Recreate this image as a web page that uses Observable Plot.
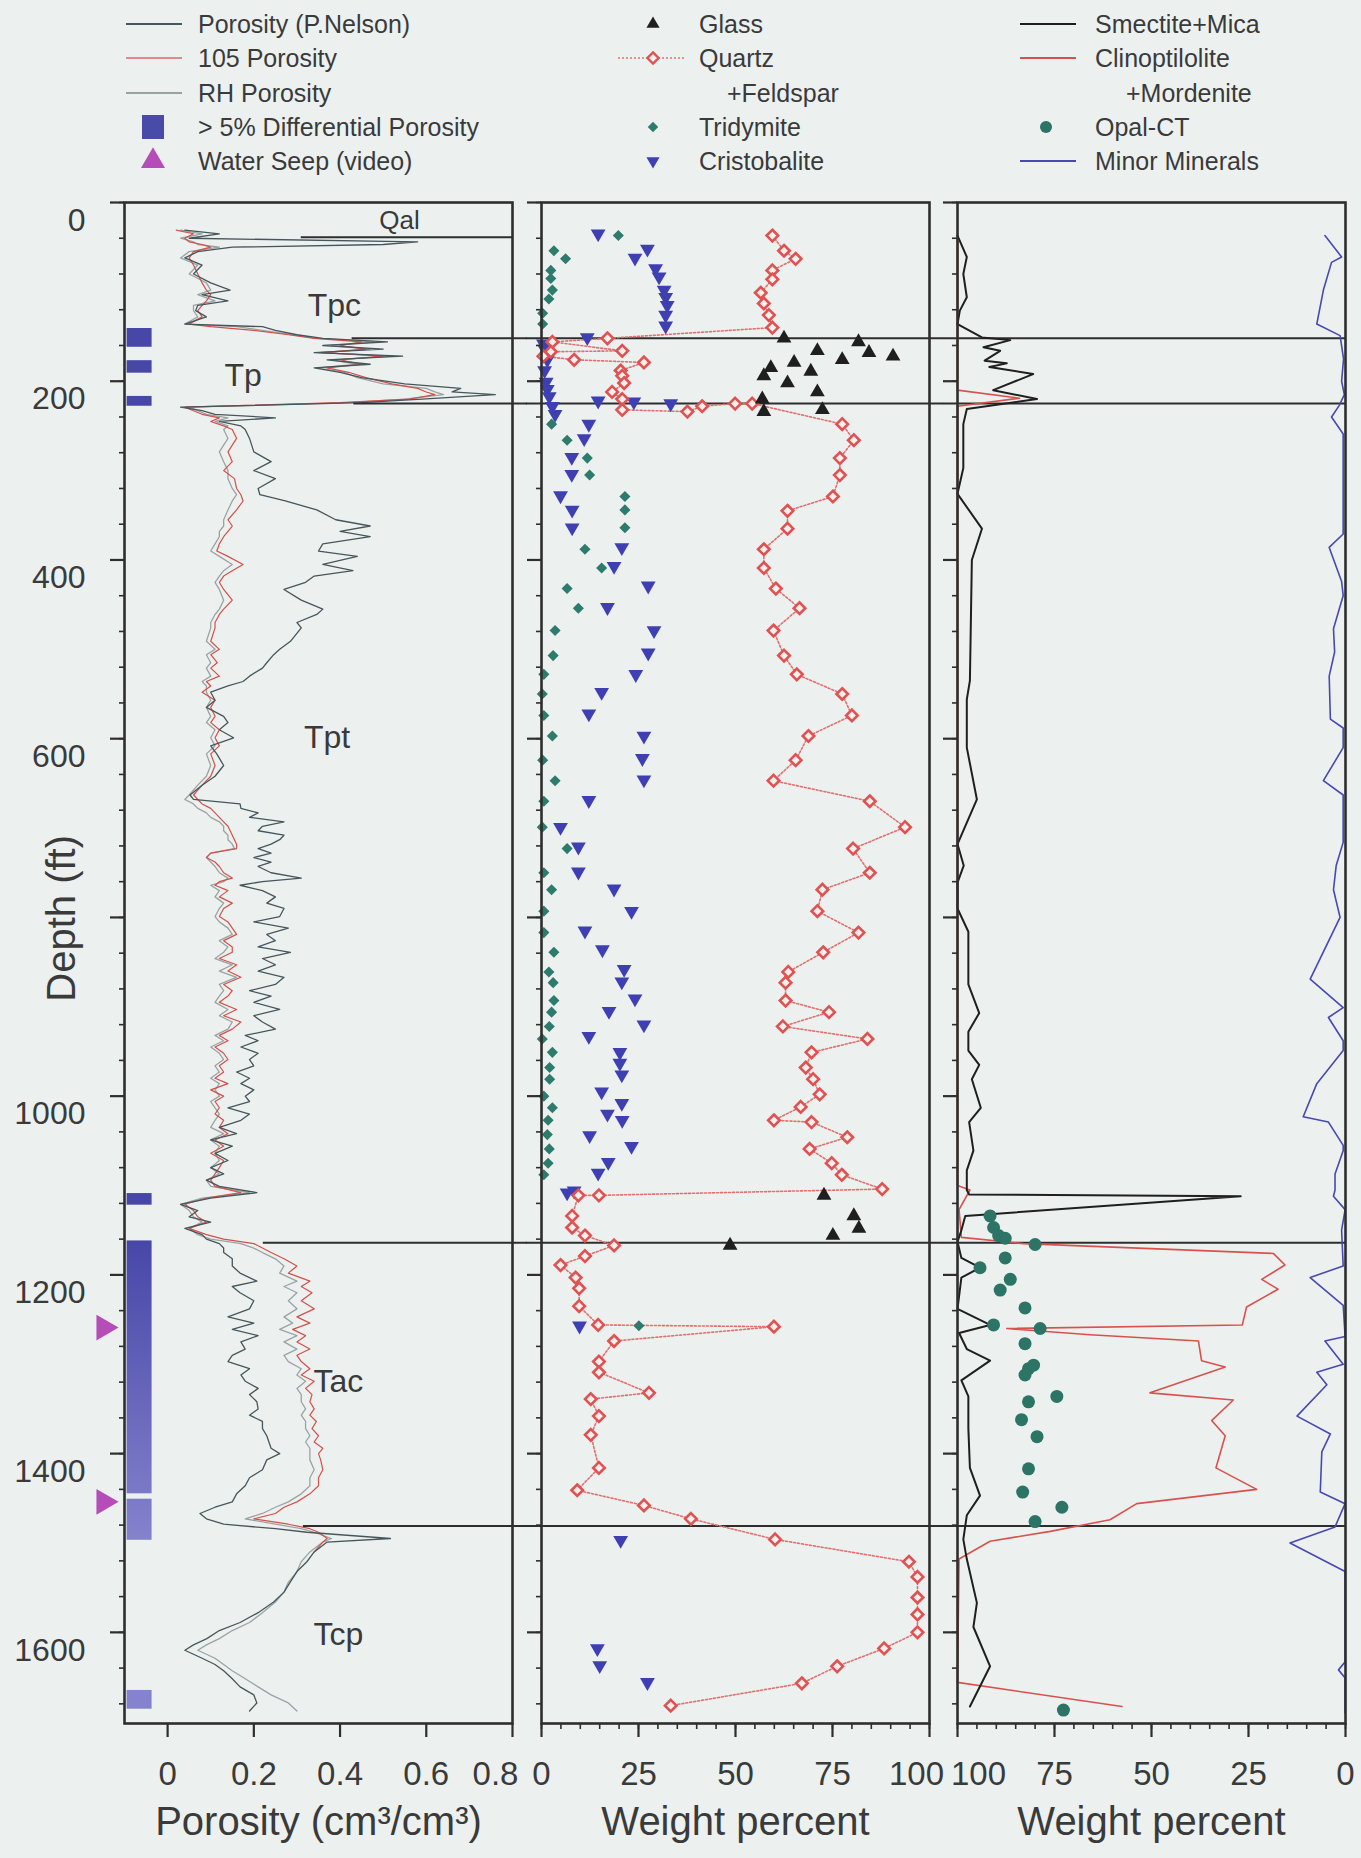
<!DOCTYPE html>
<html>
<head>
<meta charset="utf-8">
<script src="https://cdn.jsdelivr.net/npm/d3@7"></script>
<script src="https://cdn.jsdelivr.net/npm/@observablehq/plot@0.6"></script>
<style>
  html,body{margin:0;padding:0;background:#ecf1f0;}
  #wrap{position:relative;width:1361px;height:1858px;overflow:hidden;}
  #wrap > *{position:absolute;top:0;}
</style>
</head>
<body>
<div id="wrap"></div>
<script>
// ---------------- DATA ----------------
const depthTicks = [0, 200, 400, 600, 800, 1000, 1200, 1400, 1600];
const depthTickLabels = ["0", "200", "400", "600", "", "1000", "1200", "1400", "1600"];
const porTicks = [0, 0.2, 0.4, 0.6, 0.8];
const porTickLabels = ["0", "0.2", "0.4", "0.6", "0.8"];
const wtTicks = [0, 25, 50, 75, 100];
const wtTickLabels = ["0", "25", "50", "75", "100"];

// porosity logs: [depth ft, porosity cm3/cm3]
const porNelson = [[31,.04],[35,.12],[40,.05],[44,.58],[47,.50],[50,.15],[55,.07],[62,.04],[70,.08],[80,.06],[90,.10],[98,.145],[103,.08],[110,.14],[115,.07],[121,.065],[128,.09],[136,.04],[139,.22],[143,.25],[148,.30],[152,.36],[156,.51],[160,.36],[164,.50],[168,.34],[172,.545],[176,.37],[181,.47],[185,.34],[190,.40],[196,.45],[203,.55],[208,.68],[212,.66],[215,.76],[220,.59],[224,.45],[229,.03],[233,.08],[237,.11],[241,.25],[245,.12],[250,.17],[254,.18],[264,.19],[279,.20],[290,.24],[300,.20],[309,.25],[320,.21],[327,.214],[334,.273],[344,.346],[355,.39],[362,.47],[368,.40],[374,.47],[382,.36],[390,.35],[396,.44],[405,.36],[412,.43],[418,.34],[425,.32],[433,.27],[445,.31],[455,.36],[461,.346],[470,.30],[476,.31],[491,.285],[500,.26],[506,.246],[515,.23],[521,.22],[530,.19],[536,.175],[541,.14],[548,.10],[557,.11],[565,.09],[575,.13],[582,.14],[590,.12],[599,.153],[608,.10],[617,.114],[630,.13],[642,.11],[652,.08],[663,.052],[668,.06],[673,.168],[678,.17],[683,.21],[688,.19],[693,.27],[698,.22],[703,.21],[708,.27],[713,.26],[718,.24],[723,.21],[728,.24],[733,.20],[738,.24],[743,.21],[750,.24],[756,.31],[760,.22],[764,.168],[770,.22],[777,.25],[784,.23],[790,.27],[799,.26],[805,.20],[812,.28],[819,.23],[826,.25],[833,.21],[839,.285],[846,.22],[853,.25],[860,.21],[867,.27],[875,.25],[882,.19],[888,.24],[895,.20],[903,.26],[910,.20],[917,.22],[925,.25],[932,.18],[938,.21],[945,.17],[952,.21],[959,.19],[966,.20],[973,.16],[980,.19],[986,.17],[993,.20],[1000,.18],[1006,.19],[1013,.14],[1020,.19],[1027,.17],[1035,.12],[1042,.16],[1049,.10],[1056,.15],[1064,.11],[1072,.14],[1080,.10],[1087,.13],[1094,.09],[1101,.12],[1108,.207],[1114,.10],[1121,.03],[1128,.07],[1135,.05],[1141,.10],[1148,.04],[1155,.08],[1160,.09],[1165,.12],[1170,.13],[1175,.13],[1182,.15],[1190,.15],[1198,.168],[1207,.207],[1213,.15],[1220,.168],[1229,.20],[1238,.19],[1247,.14],[1254,.20],[1261,.15],[1268,.21],[1275,.17],[1283,.18],[1290,.15],[1297,.14],[1305,.19],[1312,.17],[1319,.18],[1327,.21],[1334,.19],[1342,.207],[1350,.21],[1357,.19],[1364,.22],[1372,.22],[1380,.23],[1387,.235],[1394,.24],[1400,.26],[1407,.23],[1418,.22],[1427,.19],[1436,.18],[1445,.16],[1454,.15],[1460,.11],[1467,.075],[1473,.09],[1479,.13],[1484,.25],[1488,.323],[1495,.517],[1499,.37],[1510,.34],[1521,.323],[1532,.30],[1544,.284],[1555,.27],[1566,.246],[1578,.21],[1589,.168],[1598,.12],[1607,.091],[1614,.06],[1620,.04],[1629,.08],[1636,.11],[1643,.13],[1652,.15],[1661,.168],[1670,.20],[1679,.207],[1688,.19]];

const por105 = [[31,.02],[35,.06],[40,.04],[44,.05],[47,.08],[50,.10],[55,.06],[62,.05],[70,.06],[80,.07],[90,.08],[98,.09],[103,.10],[110,.09],[115,.08],[121,.07],[128,.08],[136,.05],[139,.10],[143,.20],[148,.28],[152,.34],[156,.45],[160,.40],[164,.46],[168,.36],[172,.50],[176,.40],[181,.45],[185,.37],[190,.42],[196,.46],[203,.52],[208,.58],[212,.60],[215,.62],[220,.56],[224,.40],[229,.04],[233,.06],[237,.08],[241,.12],[245,.10],[250,.13],[254,.15],[264,.16],[279,.14],[290,.15],[300,.13],[309,.155],[320,.16],[327,.17],[334,.175],[344,.16],[355,.14],[362,.15],[368,.14],[374,.13],[382,.12],[390,.114],[396,.14],[405,.175],[412,.15],[418,.13],[425,.12],[433,.13],[445,.15],[455,.13],[461,.12],[470,.11],[476,.11],[491,.10],[500,.12],[506,.10],[515,.115],[521,.10],[530,.12],[536,.09],[541,.10],[548,.08],[557,.11],[565,.10],[575,.11],[582,.10],[590,.12],[599,.11],[608,.12],[617,.10],[630,.11],[642,.10],[652,.08],[663,.06],[668,.07],[673,.08],[678,.10],[683,.11],[688,.12],[693,.13],[698,.14],[703,.145],[708,.15],[713,.155],[718,.16],[723,.16],[728,.10],[733,.09],[738,.11],[743,.12],[750,.13],[756,.15],[760,.12],[764,.11],[770,.14],[777,.12],[784,.15],[790,.13],[799,.12],[805,.14],[812,.15],[819,.16],[826,.13],[833,.15],[839,.15],[846,.12],[853,.16],[860,.14],[867,.17],[875,.13],[882,.15],[888,.14],[895,.12],[903,.16],[910,.13],[917,.17],[925,.15],[932,.12],[938,.14],[945,.11],[952,.13],[959,.14],[966,.12],[973,.13],[980,.11],[986,.14],[993,.10],[1000,.13],[1006,.11],[1013,.12],[1020,.11],[1027,.13],[1035,.12],[1042,.14],[1049,.11],[1056,.13],[1064,.10],[1072,.13],[1080,.12],[1087,.11],[1094,.10],[1101,.11],[1108,.17],[1114,.09],[1121,.04],[1128,.06],[1135,.07],[1141,.09],[1148,.05],[1155,.09],[1160,.13],[1165,.20],[1170,.22],[1175,.24],[1182,.27],[1190,.30],[1198,.28],[1207,.33],[1213,.31],[1220,.335],[1229,.31],[1238,.34],[1247,.30],[1254,.33],[1261,.29],[1268,.32],[1275,.30],[1283,.33],[1290,.30],[1297,.31],[1305,.33],[1312,.31],[1319,.34],[1327,.32],[1334,.335],[1342,.33],[1350,.34],[1357,.33],[1364,.345],[1372,.335],[1380,.35],[1387,.34],[1394,.36],[1400,.35],[1407,.355],[1418,.36],[1427,.35],[1436,.35],[1445,.33],[1454,.30],[1460,.27],[1467,.25],[1473,.20],[1479,.28],[1484,.33],[1488,.35],[1495,.37],[1499,.36],[1510,.34]];

const porRH = [[31,.03],[35,.08],[40,.03],[44,.06],[47,.07],[50,.12],[55,.05],[62,.03],[70,.07],[80,.05],[90,.09],[98,.10],[103,.07],[110,.11],[115,.06],[121,.06],[128,.07],[136,.04],[139,.16],[143,.22],[148,.29],[152,.35],[156,.48],[160,.38],[164,.47],[168,.35],[172,.52],[176,.38],[181,.44],[185,.35],[190,.41],[196,.44],[203,.50],[208,.60],[212,.62],[215,.64],[220,.55],[224,.42],[229,.05],[233,.07],[237,.09],[241,.14],[245,.11],[250,.14],[254,.13],[264,.14],[279,.12],[290,.13],[300,.14],[309,.14],[320,.15],[327,.16],[334,.15],[344,.14],[355,.13],[362,.13],[368,.12],[374,.12],[382,.11],[390,.10],[396,.12],[405,.15],[412,.13],[418,.12],[425,.11],[433,.12],[445,.13],[455,.12],[461,.11],[470,.10],[476,.10],[491,.09],[500,.11],[506,.09],[515,.10],[521,.09],[530,.10],[536,.08],[541,.09],[548,.09],[557,.10],[565,.09],[575,.10],[582,.09],[590,.11],[599,.10],[608,.11],[617,.09],[630,.10],[642,.09],[652,.07],[663,.05],[668,.04],[673,.06],[678,.07],[683,.09],[688,.10],[693,.12],[698,.13],[703,.13],[708,.14],[713,.14],[718,.15],[723,.155],[728,.10],[733,.09],[738,.10],[743,.11],[750,.12],[756,.14],[760,.13],[764,.10],[770,.12],[777,.11],[784,.13],[790,.12],[799,.11],[805,.12],[812,.14],[819,.15],[826,.12],[833,.14],[839,.13],[846,.11],[853,.15],[860,.12],[867,.16],[875,.12],[882,.13],[888,.12],[895,.11],[903,.14],[910,.12],[917,.15],[925,.14],[932,.11],[938,.13],[945,.10],[952,.12],[959,.13],[966,.11],[973,.12],[980,.10],[986,.12],[993,.11],[1000,.12],[1006,.10],[1013,.11],[1020,.12],[1027,.11],[1035,.10],[1042,.13],[1049,.10],[1056,.12],[1064,.11],[1072,.12],[1080,.10],[1087,.12],[1094,.09],[1101,.10],[1108,.19],[1114,.08],[1121,.03],[1128,.05],[1135,.06],[1141,.08],[1148,.05],[1155,.07],[1160,.10],[1165,.17],[1170,.20],[1175,.22],[1182,.25],[1190,.27],[1198,.26],[1207,.30],[1213,.27],[1220,.30],[1229,.28],[1238,.30],[1247,.27],[1254,.29],[1261,.26],[1268,.30],[1275,.27],[1283,.30],[1290,.27],[1297,.28],[1305,.31],[1312,.30],[1319,.32],[1327,.30],[1334,.31],[1342,.31],[1350,.32],[1357,.31],[1364,.32],[1372,.32],[1380,.33],[1387,.32],[1394,.33],[1400,.33],[1407,.33],[1418,.34],[1427,.33],[1436,.33],[1445,.31],[1454,.28],[1460,.25],[1467,.22],[1473,.18],[1479,.25],[1484,.31],[1488,.34],[1495,.38],[1499,.36],[1510,.33],[1521,.31],[1532,.30],[1544,.28],[1555,.27],[1566,.25],[1578,.22],[1589,.19],[1598,.15],[1607,.12],[1614,.09],[1620,.07],[1629,.11],[1636,.13],[1643,.15],[1652,.18],[1661,.21],[1670,.24],[1679,.28],[1688,.30]];

// > 5% differential porosity intervals (ft)
const diffPorTop = [141, 177, 217, 1109, 1162, 1451, 1665];
const diffPorBottom = [162, 191, 228, 1122, 1445, 1497, 1686];
// water seeps (ft)
const seepDepth = [1259, 1454];
// formation contacts (ft) and porosity where the contact line starts
const contactDepth = [152, 225, 1164, 1481];
const contactStart = [0.428, 0.432, 0.222, 0.315];
const qalDepth = [39];
const qalStart = 0.31;
// unit labels
const unitNames = ["Tpc", "Tp", "Tpt", "Tac", "Tcp"];
const unitDepth = [116, 194, 599, 1320, 1603];
const unitPor = [0.387, 0.175, 0.37, 0.396, 0.396];

// mineralogy (weight percent): [depth, value]
const glass = [[152,62.5],[156,81.7],[166,71.1],[168,84.4],[172,90.6],[176,77.5],[179,65.1],[185,59.1],[189,69.4],[194,57.3],[202,63.4],[212,71.1],[220,56.9],[232,72.4],[234,57.3],[1111,72.8],[1134,80.5],[1148,81.8],[1156,75.1],[1167,48.6]];

const quartz = [[37,59.5],[54,62.5],[63,65.5],[76,59.5],[86,59.5],[101,56.5],[113,57.3],[126,58.6],[140,59.5],[152,17],[156,2.8],[166,20.8],[167,2.4],[172,0.5],[176,8.4],[179,26.4],[188,20.4],[194,20.8],[202,21.3],[212,18.2],[220,20.8],[232,20.8],[234,37.6],[228,41.4],[225,49.9],[225,54.3],[248,77.5],[266,80.5],[286,76.9],[305,76.9],[329,75.1],[345,63.4],[365,63.4],[388,57.3],[409,57.3],[432,60.4],[454,66.5],[479,59.8],[507,62.5],[528,65.8],[550,77.5],[574,80],[597,68.8],[624,65.5],[647,59.8],[670,84.6],[699,93.7],[723,80.3],[750,84.6],[769,72.4],[793,71.1],[817,81.7],[839,72.6],[861,63.6],[873,62.9],[893,62.9],[906,74.1],[922,62.2],[936,84],[951,69.6],[968,68.1],[981,70],[998,71.7],[1012,66.8],[1027,59.9],[1029,69.6],[1046,78.8],[1059,69.1],[1075,74.8],[1088,77.4],[1104,87.8],[1111,14.8],[1111,9.5],[1134,7.9],[1147,7.9],[1156,11.2],[1167,18.7],[1179,11.2],[1189,4.9],[1203,8.8],[1215,9.7],[1235,9.7],[1256,14.6],[1258,59.9],[1274,18.7],[1297,14.8],[1309,14.8],[1332,27.7],[1339,12.7],[1358,14.8],[1379,12.7],[1416,14.8],[1441,9.2],[1458,26.4],[1473,38.5],[1496,60.2],[1521,94.7],[1538,96.9],[1561,96.9],[1580,96.9],[1600,96.9],[1618,88.3],[1638,76.2],[1657,67.1],[1682,33.3]];

const tridymite = [[37,19.8],[54,3.2],[63,6.2],[76,2.4],[85,2.4],[98,2.8],[108,1.9],[124,0.3],[136,0.3],[248,2.6],[266,6.6],[286,11.8],[305,12.4],[329,21.5],[344,21.5],[364,21.5],[388,11.2],[409,15.5],[432,6.6],[454,9.5],[479,3.5],[507,3],[528,0.6],[550,0.2],[574,0.6],[597,2.8],[624,0.3],[647,3.5],[670,0.6],[699,0.2],[723,6.6],[750,0.6],[769,2.6],[793,0.6],[817,0.6],[839,3.2],[861,1.9],[873,3],[893,3.2],[906,2.6],[922,2],[936,0.2],[951,2.8],[968,2.1],[981,2.1],[1000,0.6],[1013,2.8],[1027,1.7],[1043,1.5],[1059,2],[1075,1.7],[1088,0.6],[1257,25.1]];

const cristobalite = [[35,14.6],[52,27.3],[62,24.1],[74,29.4],[83,30.3],[98,31.6],[106,32],[115,32.4],[126,32],[138,32],[151,11.8],[158,0.5],[164,0.8],[176,1.5],[188,0.8],[201,1.2],[209,1.5],[217,2],[222,14.6],[223,23.8],[225,33.3],[228,2.8],[237,3.5],[248,12.2],[264,11],[285,7.8],[304,7.8],[328,4.9],[344,7.9],[364,7.9],[386,20.7],[407,18.7],[429,27.5],[453,17],[479,29],[504,27.5],[528,24.3],[548,15.5],[572,12.2],[597,26.4],[622,26],[646,26.4],[669,12.2],[699,4.9],[721,9.5],[749,9.5],[768,18.7],[793,23.2],[815,11.2],[836,15.7],[858,21.3],[872,20.7],[891,24.1],[905,17.4],[920,26.4],[933,12.2],[951,20.2],[963,20.2],[976,20.7],[995,15.5],[1008,20.7],[1020,17],[1027,20.8],[1044,12.4],[1056,23.2],[1074,17.2],[1086,14.6],[1106,8.4],[1108,6.6],[1257,9.8],[1497,20.4],[1618,14.4],[1637,15],[1656,27.3]];

const smectite = [[37,100],[61,97.6],[80,98.5],[106,97.6],[121,99.4],[136,100],[151,93.7],[154,86.4],[162,93.3],[166,89],[177,93],[180,87.3],[184,91.8],[192,80.5],[210,90.8],[220,79.5],[231,97.6],[248,98.5],[297,98.5],[326,100],[365,93.7],[400,96.3],[535,96.8],[556,97.6],[610,97.6],[668,95],[718,100],[742,98.4],[761,100],[790,100],[816,97.2],[875,97.2],[907,94.4],[928,97.2],[949,97.2],[965,94.4],[981,96.3],[1013,94],[1029,97],[1061,95.9],[1083,97.6],[1105,97.6],[1110,97],[1112,27],[1134,98],[1150,99],[1163,100],[1181,99],[1192,94.2],[1203,99],[1238,100],[1256,91.6],[1265,99.6],[1283,97.6],[1296,91.6],[1318,99],[1336,97.2],[1372,97.2],[1416,96.8],[1447,94.2],[1469,97.6],[1496,98.5],[1518,97.6],[1567,95],[1594,95.9],[1638,91.6],[1683,96.8]];

const clinoptilolite = [[37,100],[210,100],[219,84],[228,100],[1100,100],[1105,96.8],[1127,99.6],[1158,99],[1165,83],[1176,18.6],[1189,15.6],[1205,21.6],[1216,17.4],[1236,25.5],[1256,26.6],[1260,87.3],[1267,65.8],[1274,37.9],[1296,37.1],[1303,31],[1332,50.4],[1340,28.9],[1363,34.5],[1380,31],[1416,33.4],[1440,22.9],[1456,53.8],[1474,60.7],[1487,76.1],[1498,91.6],[1518,99.6],[1656,100],[1683,57.6]];

const opalCT = [[1134,91.6],[1147,90.7],[1156,89.4],[1159,87.7],[1166,80],[1181,87.7],[1192,94.2],[1205,86.4],[1217,89],[1237,82.6],[1256,90.7],[1260,78.7],[1277,82.6],[1301,80.4],[1305,81.7],[1312,82.6],[1336,74.4],[1342,81.7],[1362,83.5],[1381,79.5],[1417,81.7],[1443,83.2],[1460,73.1],[1476,80],[1687,72.7]];

const minorMinerals = [[37,5.3],[56,1.9],[61,1.0],[67,3.6],[98,5.7],[136,7.4],[149,1.4],[175,0.5],[200,1.0],[215,0.3],[227,1.6],[240,3.6],[259,0.6],[371,0.6],[386,4.2],[424,1.0],[440,0.6],[477,3.1],[503,2.8],[530,4.2],[578,3.9],[588,0.6],[610,0.6],[647,5.7],[663,0.6],[716,0.6],[742,2.4],[769,3.1],[800,1.4],[869,9.1],[901,0.6],[912,4.4],[938,0.6],[949,0.6],[986,7.4],[1023,10.9],[1029,4.4],[1055,0.6],[1061,0.6],[1087,2.7],[1105,2.7],[1112,3.1],[1127,0.1],[1150,1],[1190,0.6],[1203,9.1],[1234,0.6],[1269,0.1],[1274,5.3],[1300,0.6],[1309,7.4],[1323,4.8],[1358,12.5],[1378,3.9],[1398,6.1],[1443,6.5],[1456,0.1],[1482,2.7],[1500,14.3],[1532,0.1],[1633,0.1],[1642,1.8],[1651,0.1],[1690,0.1]];

// ---------------- STYLE ----------------
const FONT = '"Liberation Sans", Arial, Helvetica, sans-serif';
const INK = "#2e2e2e";
const TXT = "#3a3a3a";
const C = {
  nelson: "#46565a", r105: "#d4504a", rh: "#9aa3a4",
  glass: "#1f1f1f", quartz: "#e05252", trid: "#2d7b6c", crist: "#3f3fb4",
  smec: "#1f1f1f", clino: "#d9514c", opal: "#2b7466", minor: "#4848b2", diff: "#4a4aa8", seep: "#b64cb8"
};
const toObj = arr => arr.map(([d, v]) => ({d, v}));
const Y = {domain: [0, 1702], reverse: true, axis: null};
const common = {height: 1858, marginTop: 202, marginBottom: 135,
  style: {background: "transparent", fontFamily: FONT, color: TXT, overflow: "visible"}};
const depthMinor = d3.range(0, 1701, 40);

function depthMarks(withLabels) {
  const m = [
    Plot.axisY(depthMinor, {tickSize: 5, fill: "none", stroke: INK, strokeWidth: 1.6, label: null}),
    Plot.axisY(depthTicks, {tickSize: 14, fill: "none", stroke: INK, strokeWidth: 2.2, label: null})
  ];
  if (withLabels) m.push(Plot.axisY(depthTicks, {tickSize: 14, tickPadding: 25, stroke: "none", fill: TXT,
    fontSize: 32, dy: 18, tickFormat: d => depthTickLabels[depthTicks.indexOf(d)], label: null}));
  return m;
}
// edge labels are nudged inward/outward so neighbouring panels' labels don't collide
function bottomMarks(major, labels, minor, edgeValue, edgeDx) {
  const fmt = d => labels[major.indexOf(d)];
  const m = [];
  if (minor) m.push(Plot.axisX(minor, {anchor: "bottom", tickSize: 6, fill: "none", stroke: INK, strokeWidth: 1.6, label: null}));
  m.push(Plot.axisX(major, {anchor: "bottom", tickSize: 14, fill: "none", stroke: INK, strokeWidth: 2.2, label: null}));
  const lab = {anchor: "bottom", tickSize: 14, tickPadding: 24, stroke: "none", fill: TXT, fontSize: 33, tickFormat: fmt, label: null};
  m.push(Plot.axisX(major.filter(d => d !== edgeValue), lab));
  m.push(Plot.axisX([edgeValue], {...lab, dx: edgeDx}));
  return m;
}
const title = t => Plot.text([t], {text: d => d, frameAnchor: "bottom", dy: 111, fontSize: 40, fill: TXT});

// ---------------- LEFT: porosity ----------------
const diffPor = diffPorTop.map((t, i) => ({top: t, bottom: diffPorBottom[i]}));
const left = Plot.plot({
  ...common, width: 526, marginLeft: 124, marginRight: 14,
  x: {domain: [-0.1, 0.8], axis: null}, y: Y,
  marks: [
    Plot.rect(diffPor, {x1: -0.094, x2: -0.036, y1: "top", y2: "bottom", fill: "url(#dpg)"}),
    Plot.dot(seepDepth, {x: -0.148, y: d => d, symbol: "triangle", rotate: 90, r: 9.5, fill: C.seep}),
    Plot.line(toObj(porRH), {x: "v", y: "d", stroke: C.rh, strokeWidth: 1.3}),
    Plot.line(toObj(por105), {x: "v", y: "d", stroke: C.r105, strokeWidth: 1.2}),
    Plot.line(toObj(porNelson), {x: "v", y: "d", stroke: C.nelson, strokeWidth: 1.3}),
    Plot.ruleY(contactDepth, {y: d => d, x1: (d, i) => contactStart[i], x2: 0.834, stroke: INK, strokeWidth: 2}),
    Plot.ruleY(qalDepth, {y: d => d, x1: qalStart, x2: 0.8, stroke: INK, strokeWidth: 2}),
    Plot.text(["Qal"], {text: d => d, x: 0.538, y: 20, fontSize: 26, fill: TXT}),
    Plot.text(unitNames, {text: d => d, x: (d, i) => unitPor[i], y: (d, i) => unitDepth[i], fontSize: 32, fill: TXT}),
    Plot.frame({stroke: INK, strokeWidth: 2.6}),
    ...depthMarks(true),
    ...bottomMarks(porTicks, porTickLabels, null, 0.8, -17),
    title("Porosity (cm³/cm³)"),
    Plot.text(["Depth (ft)"], {text: d => d, y: 801, frameAnchor: "left", textAnchor: "middle", dx: -62, rotate: -90, fontSize: 40, fill: TXT})
  ]
});
{
  const ys = left.scale("y");
  const svg = d3.select(left);
  const g = svg.insert("defs", ":first-child").append("linearGradient")
    .attr("id", "dpg").attr("gradientUnits", "userSpaceOnUse")
    .attr("x1", 0).attr("x2", 0).attr("y1", ys.apply(1162)).attr("y2", ys.apply(1500));
  g.append("stop").attr("offset", 0).attr("stop-color", "#4747a8");
  g.append("stop").attr("offset", 1).attr("stop-color", "#8583cd");
}

// ---------------- MIDDLE: silica minerals ----------------
const middle = Plot.plot({
  ...common, width: 417, marginLeft: 15, marginRight: 14,
  x: {domain: [0, 100], axis: null}, y: Y,
  marks: [
    Plot.ruleY(contactDepth, {y: d => d, x1: -3.9, x2: 103.6, stroke: INK, strokeWidth: 2}),
    Plot.line(toObj(quartz), {x: "v", y: "d", stroke: "#e27070", strokeWidth: 1.6, strokeDasharray: "2,2"}),
    Plot.dot(toObj(tridymite), {x: "v", y: "d", symbol: "diamond2", r: 5, fill: C.trid}),
    Plot.dot(toObj(cristobalite), {x: "v", y: "d", symbol: "triangle", rotate: 180, r: 5.5, fill: C.crist}),
    Plot.dot(toObj(quartz), {x: "v", y: "d", symbol: "diamond2", r: 5.2, fill: "#f7eeee", stroke: C.quartz, strokeWidth: 2.6}),
    Plot.dot(toObj(glass), {x: "v", y: "d", symbol: "triangle", r: 5.5, fill: C.glass}),
    Plot.frame({stroke: INK, strokeWidth: 2.6}),
    ...depthMarks(false),
    ...bottomMarks(wtTicks, wtTickLabels, d3.range(0, 101, 5), 100, -13),
    title("Weight percent")
  ]
});

// ---------------- RIGHT: clays / zeolites ----------------
const rightLabels = ["100", "75", "50", "25", "0"];
const rightTicks = [100, 75, 50, 25, 0];
const right = Plot.plot({
  ...common, width: 418, marginLeft: 14, marginRight: 16,
  x: {domain: [100, 0], axis: null}, y: Y,
  marks: [
    Plot.ruleY(contactDepth, {y: d => d, x1: 103.7, x2: 0, stroke: INK, strokeWidth: 2}),
    Plot.line(toObj(minorMinerals), {x: "v", y: "d", stroke: C.minor, strokeWidth: 1.6}),
    Plot.line(toObj(clinoptilolite), {x: "v", y: "d", stroke: C.clino, strokeWidth: 1.6}),
    Plot.line(toObj(smectite), {x: "v", y: "d", stroke: C.smec, strokeWidth: 2}),
    Plot.dot(toObj(opalCT), {x: "v", y: "d", r: 6.5, fill: C.opal}),
    Plot.frame({stroke: INK, strokeWidth: 2.6}),
    ...depthMarks(false),
    ...bottomMarks(rightTicks, rightLabels, d3.range(0, 101, 5), 100, 21),
    title("Weight percent")
  ]
});

const wrap = document.getElementById("wrap");
left.style.left = "0px"; middle.style.left = "526px"; right.style.left = "943px";
wrap.append(left, middle, right);

// ---------------- LEGEND ----------------
const lg = d3.create("svg").attr("width", 1361).attr("height", 195)
  .style("font-family", FONT).style("left", "0px");
const rows = [24, 58, 93, 127, 161];
const txt = (x, row, s) => lg.append("text").attr("x", x).attr("y", rows[row])
  .attr("dominant-baseline", "central").attr("font-size", 25).attr("fill", TXT).text(s);
const hline = (x1, x2, row, color, w, dash) => lg.append("line").attr("x1", x1).attr("x2", x2)
  .attr("y1", rows[row]).attr("y2", rows[row]).attr("stroke", color).attr("stroke-width", w)
  .attr("stroke-dasharray", dash || null);
const sym = (type, size, x, row, fill, rot, stroke, sw) => lg.append("path")
  .attr("d", d3.symbol(type, size)()).attr("transform", `translate(${x},${rows[row]}) rotate(${rot || 0})`)
  .attr("fill", fill).attr("stroke", stroke || "none").attr("stroke-width", sw || 0);

hline(126, 182, 0, C.nelson, 2); txt(198, 0, "Porosity (P.Nelson)");
hline(126, 182, 1, "#d98c8c", 2); txt(198, 1, "105 Porosity");
hline(126, 182, 2, C.rh, 2); txt(198, 2, "RH Porosity");
lg.append("rect").attr("x", 142).attr("y", rows[3] - 12).attr("width", 22).attr("height", 24).attr("fill", C.diff);
txt(198, 3, "> 5% Differential Porosity");
sym(d3.symbolTriangle, 250, 153, 4, C.seep); txt(198, 4, "Water Seep (video)");

sym(d3.symbolTriangle, 75, 653, 0, C.glass); txt(699, 0, "Glass");
hline(618, 686, 1, "#e27070", 1.6, "2,2");
sym(d3.symbolDiamond2, 80, 653, 1, "#f7eeee", 0, C.quartz, 2.4); txt(699, 1, "Quartz");
txt(727, 2, "+Feldspar");
sym(d3.symbolDiamond2, 70, 653, 3, C.trid); txt(699, 3, "Tridymite");
sym(d3.symbolTriangle, 75, 653, 4, C.crist, 180); txt(699, 4, "Cristobalite");

hline(1020, 1076, 0, C.smec, 2.2); txt(1095, 0, "Smectite+Mica");
hline(1020, 1076, 1, C.clino, 2); txt(1095, 1, "Clinoptilolite");
txt(1126, 2, "+Mordenite");
lg.append("circle").attr("cx", 1046).attr("cy", rows[3]).attr("r", 6).attr("fill", C.opal); txt(1095, 3, "Opal-CT");
hline(1020, 1076, 4, C.minor, 2); txt(1095, 4, "Minor Minerals");
wrap.append(lg.node());
</script>
</body>
</html>
